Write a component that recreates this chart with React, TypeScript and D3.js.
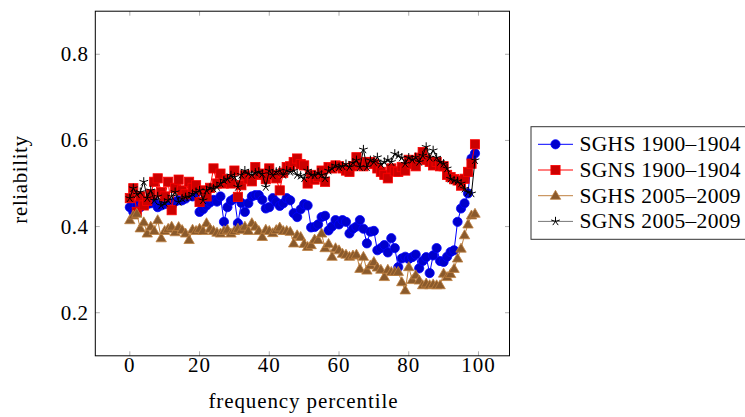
import React, { useEffect, useRef } from "react";
import * as d3 from "d3";

// frequency percentile 0..99
const percentiles: number[] = d3.range(0, 100);

const sghs1900: number[] = [
  0.445, 0.434, 0.45, 0.445, 0.455, 0.452, 0.454, 0.457, 0.445, 0.449,
  0.452, 0.454, 0.448, 0.458, 0.461, 0.461, 0.465, 0.473, 0.47, 0.477,
  0.434, 0.44, 0.449, 0.456, 0.462, 0.458, 0.47, 0.411, 0.445, 0.46,
  0.465, 0.408, 0.455, 0.434, 0.454, 0.47, 0.473, 0.473, 0.462, 0.442,
  0.445, 0.466, 0.457, 0.448, 0.454, 0.466, 0.461, 0.431, 0.422, 0.44,
  0.452, 0.449, 0.398, 0.399, 0.405, 0.422, 0.425, 0.391, 0.4, 0.415,
  0.405, 0.415, 0.411, 0.384, 0.395, 0.4, 0.415, 0.395, 0.361, 0.388,
  0.39, 0.345, 0.35, 0.357, 0.34, 0.373, 0.35, 0.306, 0.326, 0.33,
  0.325, 0.329, 0.335, 0.303, 0.32, 0.329, 0.292, 0.333, 0.35, 0.32,
  0.318, 0.33, 0.341, 0.345, 0.411, 0.442, 0.454, 0.477, 0.558, 0.57,
];

const sgns1900: number[] = [
  0.466, 0.489, 0.434, 0.47, 0.449, 0.46, 0.475, 0.504, 0.512, 0.48,
  0.47, 0.504, 0.438, 0.49, 0.509, 0.484, 0.475, 0.504, 0.49, 0.496,
  0.457, 0.484, 0.47, 0.49, 0.535, 0.5, 0.523, 0.5, 0.51, 0.5,
  0.53, 0.469, 0.496, 0.519, 0.51, 0.505, 0.538, 0.52, 0.523, 0.51,
  0.535, 0.52, 0.512, 0.484, 0.525, 0.538, 0.54, 0.55, 0.558, 0.545,
  0.542, 0.5, 0.52, 0.509, 0.515, 0.53, 0.504, 0.538, 0.535, 0.542,
  0.54, 0.535, 0.53, 0.527, 0.54, 0.561, 0.545, 0.54, 0.55, 0.55,
  0.545, 0.535, 0.527, 0.52, 0.512, 0.535, 0.528, 0.527, 0.538, 0.53,
  0.555, 0.545, 0.54, 0.56, 0.573, 0.555, 0.55, 0.542, 0.55, 0.54,
  0.54, 0.52, 0.515, 0.51, 0.507, 0.495, 0.511, 0.527, 0.546, 0.591,
];

const sghs2005: number[] = [
  0.415, 0.426, 0.43, 0.396, 0.41, 0.384, 0.4, 0.39, 0.415, 0.373,
  0.39, 0.395, 0.4, 0.387, 0.399, 0.392, 0.384, 0.369, 0.393, 0.39,
  0.395, 0.39, 0.408, 0.395, 0.39, 0.386, 0.384, 0.39, 0.393, 0.384,
  0.39, 0.395, 0.392, 0.4, 0.39, 0.408, 0.4, 0.39, 0.376, 0.393,
  0.39, 0.385, 0.392, 0.398, 0.39, 0.39, 0.388, 0.361, 0.38, 0.376,
  0.36, 0.353, 0.357, 0.37, 0.369, 0.384, 0.35, 0.36, 0.33, 0.35,
  0.345, 0.337, 0.335, 0.33, 0.333, 0.335, 0.302, 0.33, 0.298, 0.31,
  0.318, 0.305, 0.3, 0.283, 0.3, 0.295, 0.295, 0.295, 0.271, 0.252,
  0.306, 0.276, 0.287, 0.275, 0.264, 0.268, 0.264, 0.266, 0.264, 0.264,
  0.291, 0.283, 0.29, 0.302, 0.326, 0.349, 0.38, 0.405, 0.426, 0.43,
];

const sgns2005: number[] = [
  0.466, 0.489, 0.475, 0.48, 0.504, 0.466, 0.484, 0.461, 0.47, 0.449,
  0.455, 0.461, 0.47, 0.48, 0.457, 0.465, 0.468, 0.469, 0.476, 0.48,
  0.484, 0.461, 0.484, 0.49, 0.488, 0.492, 0.5, 0.507, 0.51, 0.519,
  0.515, 0.492, 0.52, 0.53, 0.523, 0.52, 0.525, 0.527, 0.522, 0.492,
  0.53, 0.519, 0.527, 0.53, 0.52, 0.53, 0.527, 0.53, 0.52, 0.518,
  0.512, 0.53, 0.52, 0.519, 0.525, 0.52, 0.512, 0.53, 0.535, 0.542,
  0.538, 0.54, 0.545, 0.538, 0.548, 0.554, 0.538, 0.579, 0.538, 0.554,
  0.55, 0.561, 0.545, 0.55, 0.555, 0.55, 0.569, 0.565, 0.56, 0.546,
  0.56, 0.555, 0.561, 0.55, 0.565, 0.585, 0.56, 0.577, 0.56, 0.55,
  0.546, 0.535, 0.511, 0.507, 0.505, 0.5, 0.488, 0.48, 0.477, 0.554,
];

const xTicks = [0, 20, 40, 60, 80, 100];
const yTicks = [0.2, 0.4, 0.6, 0.8];

const series = [
  { name: "SGHS 1900–1904", values: sghs1900, line: "#0000ff", fill: "#0000cc", mark: "circle" },
  { name: "SGNS 1900–1904", values: sgns1900, line: "#ff0000", fill: "#cc0000", mark: "square" },
  { name: "SGHS 2005–2009", values: sghs2005, line: "#bf8040", fill: "#8a5a2c", mark: "triangle" },
  { name: "SGNS 2005–2009", values: sgns2005, line: "#000000", fill: "#000000", mark: "star" },
];

const FONT = "'Liberation Serif', 'Times New Roman', serif";

const drawMark = (g: any, kind: string, fill: string, stroke: string) => {
  if (kind === "circle") {
    g.append("circle").attr("r", 4.6).attr("fill", fill).attr("stroke", stroke).attr("stroke-width", 0.8);
  } else if (kind === "square") {
    g.append("rect")
      .attr("x", -4.6).attr("y", -4.6).attr("width", 9.2).attr("height", 9.2)
      .attr("fill", fill).attr("stroke", stroke).attr("stroke-width", 0.8);
  } else if (kind === "triangle") {
    g.append("path")
      .attr("d", "M0,-5.4L5.2,3.6L-5.2,3.6Z")
      .attr("fill", fill).attr("stroke", stroke).attr("stroke-width", 0.8);
  } else {
    const arms = d3.range(5).map(k => {
      const a = -Math.PI / 2 + (k * 2 * Math.PI) / 5;
      return `M0,0L${(4.6 * Math.cos(a)).toFixed(2)},${(4.6 * Math.sin(a)).toFixed(2)}`;
    });
    g.append("path").attr("d", arms.join("")).attr("fill", "none").attr("stroke", "#000").attr("stroke-width", 1);
  }
};

const buildChart = (node: SVGSVGElement) => {
  const svg = d3.select(node);
  svg.selectAll("*").remove();

  const box = { left: 95.3, right: 509.5, top: 11.2, bottom: 355.8 };

  const x = d3.scaleLinear().domain([-9.9, 108.9]).range([box.left, box.right]);
  const y = d3.scaleLinear().domain([0.1, 0.9]).range([box.bottom, box.top]);

  const plot = svg.append("g");

  // ticks on all four sides, pointing inward
  const tickLen = 4.5;
  xTicks.forEach(t => {
    plot.append("line").attr("x1", x(t)).attr("x2", x(t)).attr("y1", box.bottom).attr("y2", box.bottom - tickLen)
      .attr("stroke", "#999").attr("stroke-width", 0.8);
    plot.append("line").attr("x1", x(t)).attr("x2", x(t)).attr("y1", box.top).attr("y2", box.top + tickLen)
      .attr("stroke", "#999").attr("stroke-width", 0.8);
    svg.append("text").attr("x", x(t)).attr("y", 372).attr("text-anchor", "middle")
      .attr("font-family", FONT).attr("font-size", 21).attr("letter-spacing", 1).attr("fill", "#000").text(String(t));
  });
  yTicks.forEach(t => {
    plot.append("line").attr("x1", box.left).attr("x2", box.left + tickLen).attr("y1", y(t)).attr("y2", y(t))
      .attr("stroke", "#999").attr("stroke-width", 0.8);
    plot.append("line").attr("x1", box.right).attr("x2", box.right - tickLen).attr("y1", y(t)).attr("y2", y(t))
      .attr("stroke", "#999").attr("stroke-width", 0.8);
    svg.append("text").attr("x", 88.5).attr("y", y(t) + 7).attr("text-anchor", "end")
      .attr("font-family", FONT).attr("font-size", 21).attr("letter-spacing", 0.5).attr("fill", "#000").text(t.toFixed(1));
  });

  const line = d3.line<number>().x((_, i) => x(percentiles[i])).y(d => y(d));

  series.forEach(s => {
    plot.append("path").attr("d", line(s.values)).attr("fill", "none")
      .attr("stroke", s.line).attr("stroke-width", 1);
    const marks = plot.append("g");
    s.values.forEach((v, i) => {
      const g = marks.append("g").attr("transform", `translate(${x(percentiles[i])},${y(v)})`);
      drawMark(g, s.mark, s.fill, s.line);
    });
  });

  plot.append("rect").attr("x", box.left).attr("y", box.top)
    .attr("width", box.right - box.left).attr("height", box.bottom - box.top)
    .attr("fill", "none").attr("stroke", "#000").attr("stroke-width", 1);

  svg.append("text").attr("x", (box.left + box.right) / 2 + 1).attr("y", 408).attr("text-anchor", "middle")
    .attr("font-family", FONT).attr("font-size", 21).attr("letter-spacing", 0.9).attr("fill", "#000")
    .text("frequency percentile");

  svg.append("text").attr("transform", `translate(27,${(box.top + box.bottom) / 2 - 4}) rotate(-90)`)
    .attr("text-anchor", "middle").attr("font-family", FONT).attr("font-size", 21).attr("letter-spacing", 0.6)
    .attr("fill", "#000").text("reliability");

  // legend
  const legend = svg.append("g");
  legend.append("rect").attr("x", 531).attr("y", 126.7).attr("width", 240).attr("height", 112.6)
    .attr("fill", "#fff").attr("stroke", "#333").attr("stroke-width", 1);
  series.forEach((s, i) => {
    const cy = 144.3 + i * 25.7;
    legend.append("line").attr("x1", 538).attr("x2", 573).attr("y1", cy).attr("y2", cy)
      .attr("stroke", s.mark === "star" ? "#777" : s.line).attr("stroke-width", 1);
    const g = legend.append("g").attr("transform", `translate(555.5,${cy})`);
    drawMark(g, s.mark, s.fill, s.line);
    legend.append("text").attr("x", 579.5).attr("y", cy + 7).attr("font-family", FONT)
      .attr("font-size", 21.5).attr("letter-spacing", 0.3).attr("fill", "#000").text(s.name);
  });
};

function App() {
  const ref = useRef<SVGSVGElement>(null);
  useEffect(() => {
    if (ref.current) buildChart(ref.current);
  }, []);

  return (
    <svg ref={ref} width={745} height={417}
      style={{ position: "absolute", left: 0, top: 0, background: "#fff" }} />
  );
}

export default App;
